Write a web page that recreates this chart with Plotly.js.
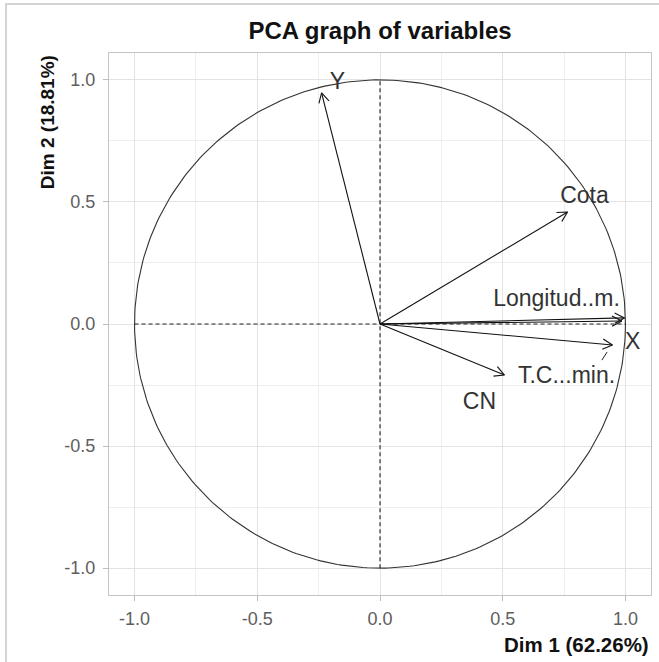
<!DOCTYPE html>
<html>
<head>
<meta charset="utf-8">
<script src="https://cdn.plot.ly/plotly-3.0.1.min.js"></script>
<style>
  html, body { margin: 0; padding: 0; background: #fff; }
  #frame { position: absolute; left: 0; top: 0; width: 659px; height: 662px; overflow: hidden; }
  #edge { position: absolute; left: 5px; top: 3px; width: 700px; height: 700px;
          border-left: 2px solid #d4d4d4; border-top: 2px solid #d4d4d4; pointer-events: none; }
  #chart { position: absolute; left: 0; top: 0; width: 659px; height: 662px; }
</style>
</head>
<body>
<div id="frame">
  <div id="chart"></div>
  <div id="edge"></div>
</div>
<script>
// Variables and their coordinates (Dim 1, Dim 2)
const variables = ["Y", "Cota", "Longitud..m.", "T.C...min.", "X", "CN"];
const dim1 = [-0.238, 0.764, 0.996, 0.985, 0.947, 0.507];
const dim2 = [0.947, 0.459, 0.025, 0.012, -0.086, -0.209];
// Label positions (as placed in the reference, repelled)
const labelDim1 = [-0.173, 0.833, 0.719, 0.760, 1.029, 0.405];
const labelDim2 = [0.988, 0.520, 0.098, -0.217, -0.078, -0.324];
// short repel segment visible next to the "T.C...min." label
const repelSegDim1 = [0.904, 0.925];
const repelSegDim2 = [-0.148, -0.115];
const circleRadius = 1;
const titleText = "PCA graph of variables";
const xTitle = "Dim 1 (62.26%)";
const yTitle = "Dim 2 (18.81%)";
const tickVals = [-1.0, -0.5, 0.0, 0.5, 1.0];
const tickText = ["-1.0", "-0.5", "0.0", "0.5", "1.0"];

const FONT = "'Liberation Sans', Arial, sans-serif";
const headLen = 0.045;
const headAng = 28 * Math.PI / 180;

const traces = [];
// unit circle
const cx = [], cy = [];
for (let i = 0; i <= 360; i++) {
  const a = i * Math.PI / 180;
  cx.push(circleRadius * Math.cos(a));
  cy.push(circleRadius * Math.sin(a));
}
traces.push({x: cx, y: cy, mode: 'lines', line: {color: '#333', width: 1.1}, hoverinfo: 'skip', showlegend: false});
// dashed axes
traces.push({x: [-circleRadius, circleRadius], y: [0, 0], mode: 'lines', line: {color: '#222', width: 1.1, dash: '4px,3px'}, hoverinfo: 'skip', showlegend: false});
traces.push({x: [0, 0], y: [-circleRadius, circleRadius], mode: 'lines', line: {color: '#222', width: 1.1, dash: '4px,3px'}, hoverinfo: 'skip', showlegend: false});

// arrows
for (let i = 0; i < variables.length; i++) {
  const x1 = dim1[i], y1 = dim2[i];
  const ang = Math.atan2(y1, x1);
  const hx = [x1 - headLen * Math.cos(ang - headAng), x1, x1 - headLen * Math.cos(ang + headAng)];
  const hy = [y1 - headLen * Math.sin(ang - headAng), y1, y1 - headLen * Math.sin(ang + headAng)];
  traces.push({x: [0, x1, null].concat(hx), y: [0, y1, null].concat(hy), mode: 'lines',
    line: {color: '#111', width: 1.1}, hoverinfo: 'skip', showlegend: false});
}
// repel segment
traces.push({x: repelSegDim1, y: repelSegDim2, mode: 'lines', line: {color: '#222', width: 1}, hoverinfo: 'skip', showlegend: false});
// labels
traces.push({x: labelDim1, y: labelDim2, text: variables, mode: 'text',
  textfont: {family: FONT, size: 23, color: '#333'},
  hoverinfo: 'skip', showlegend: false});

const axisCommon = {
  tickvals: tickVals, ticktext: tickText,
  showgrid: true, gridcolor: '#e3e3e3', gridwidth: 1,
  minor: {dtick: 0.25, showgrid: true, gridcolor: '#eeeeee', gridwidth: 1},
  zeroline: false, showline: true, mirror: true, linecolor: '#c4c4c4', linewidth: 1,
  ticks: 'outside', ticklen: 5, tickcolor: '#bdbdbd', tickwidth: 1,
  tickfont: {family: FONT, size: 18, color: '#5e5e5e'}
};

const layout = {
  width: 659, height: 662,
  margin: {l: 109, r: 8, t: 53, b: 67},
  paper_bgcolor: '#fff', plot_bgcolor: '#fff',
  title: {text: '<b>' + titleText + '</b>', font: {family: FONT, size: 24, color: '#111'},
          x: 0.5, xref: 'paper', xanchor: 'center', y: 1 - 31 / 662, yref: 'container', yanchor: 'middle'},
  xaxis: Object.assign({range: [-1.104, 1.104], ticklabelstandoff: 2}, axisCommon),
  yaxis: Object.assign({range: [-1.11, 1.11], ticklabelstandoff: 4}, axisCommon),
  annotations: [
    {text: '<b>' + xTitle + '</b>', xref: 'paper', yref: 'paper', x: 1, y: -0.092,
     xanchor: 'right', yanchor: 'middle', showarrow: false,
     font: {family: FONT, size: 20.5, color: '#111'}},
    {text: '<b>' + yTitle + '</b>', xref: 'paper', yref: 'paper', x: -0.114, y: 1,
     xanchor: 'center', yanchor: 'top', textangle: -90, showarrow: false,
     font: {family: FONT, size: 19, color: '#111'}}
  ]
};

Plotly.newPlot('chart', traces, layout, {displayModeBar: false, staticPlot: true});
</script>
</body>
</html>
